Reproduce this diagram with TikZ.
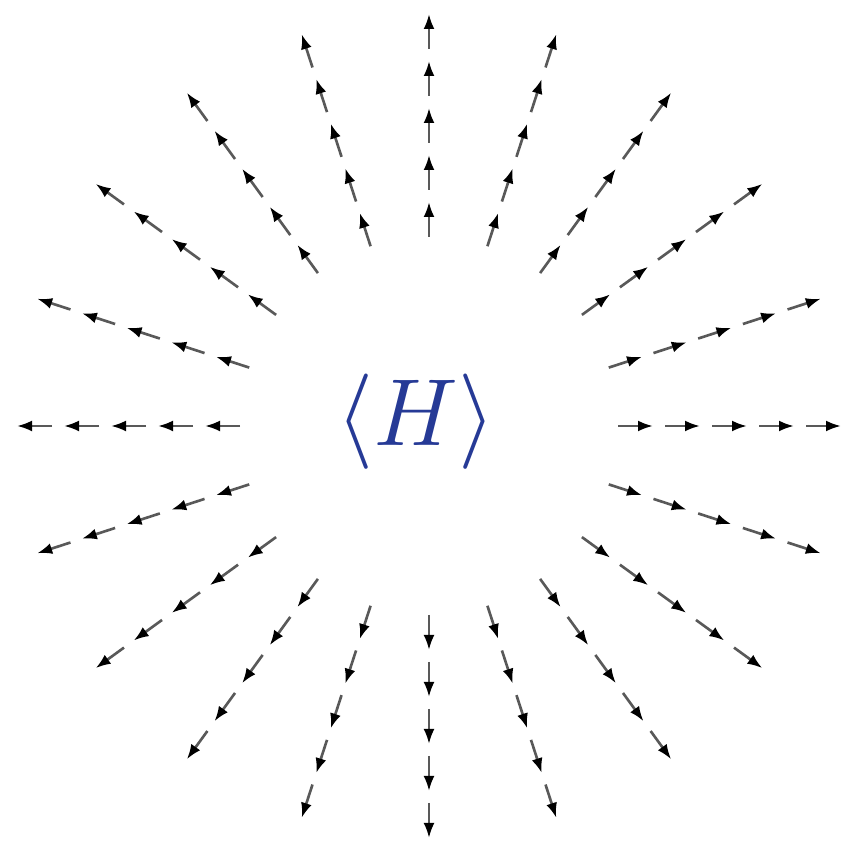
\documentclass[tikz,border=0pt]{standalone}
\usepackage{amsmath}
\usepackage{tikz}
\usetikzlibrary{calc,arrows.meta}
\definecolor{hblue}{RGB}{38,58,150}

\begin{document}
\begin{tikzpicture}[x=1mm,y=1mm,
    vec/.style={draw=black!65,line width=0.75pt,-{Latex[length=1.5mm,width=1.1mm,black]}}]
        % Рамка малюнка
        \useasboundingbox (0,0) rectangle (84.2,84.3);

        % Центр
        \coordinate (O) at (42.9,41.7);
        \node[text=hblue,font=\fontsize{24.88}{28}\selectfont,scale=1.09] (H) at ($(O)+(-1.3,0.4)$) {$\langle H\rangle$};

        % Промені по 18 градусів, по 5 стрілок
        \foreach \a in {0,18,...,342}
            \foreach \k in {0,...,4}
                \draw[vec] ($(O)+(\a:18.9+4.7*\k)$) -- ($(O)+(\a:22.4+4.7*\k)$);
    \end{tikzpicture}
\end{document}
